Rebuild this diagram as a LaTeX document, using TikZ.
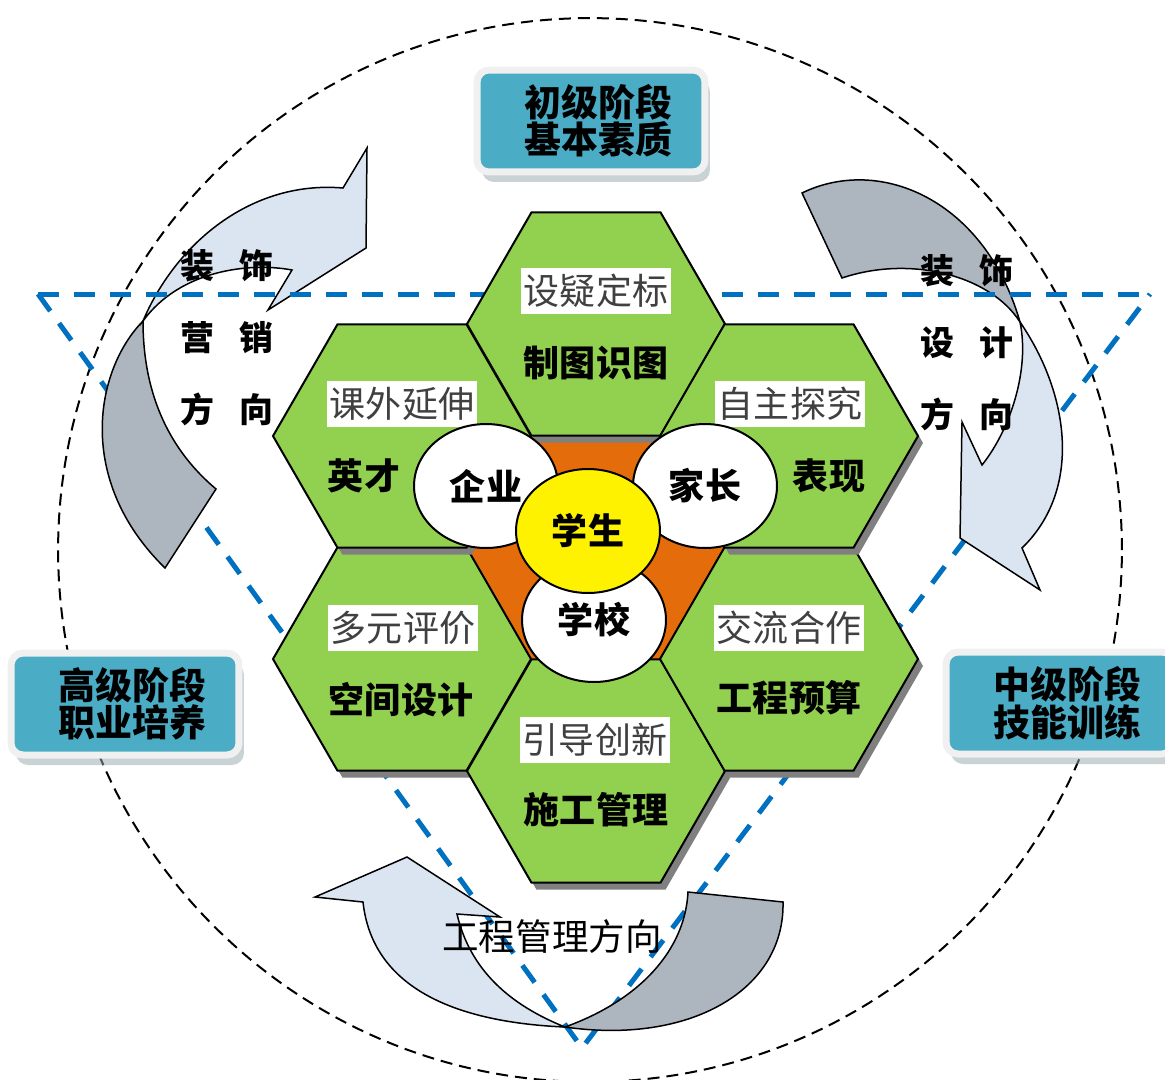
\documentclass[tikz,border=0pt]{standalone}
\usepackage{fontspec}
\newfontfamily\cjk{Noto Sans CJK SC}
\usetikzlibrary{shapes.geometric,shadows}

\definecolor{hexgreen}{HTML}{92D050}
\definecolor{coreorange}{HTML}{E46C0A}
\definecolor{stageblue}{HTML}{4BACC6}
\definecolor{stageshade}{HTML}{93A7AE}
\definecolor{arrowfront}{HTML}{DBE5F1}
\definecolor{arrowback}{HTML}{ADB5BF}
\definecolor{triblue}{HTML}{0070C0}

\tikzset{
  hexface/.style={fill=hexgreen, draw=black, line width=0.04cm},
  hexshade/.style={fill=black!50},
  frontface/.style={fill=arrowfront, draw=black, line width=0.03cm},
  backface/.style={fill=arrowback, draw=black, line width=0.03cm},
  ring/.style={draw=black, line width=0.04cm, dash pattern=on 0.24cm off 0.14cm},
  triline/.style={draw=triblue, line width=0.1cm, dash pattern=on 0.42cm off 0.3cm},
  tag/.style={fill=white, text=black!75, inner xsep=0.05cm, inner ysep=0.12cm,
    font=\cjk\fontsize{20.5}{22}\selectfont},
  word/.style={font=\cjk\bfseries\fontsize{20.5}{22}\selectfont},
  bubble/.style={ellipse, draw=black, line width=0.04cm, fill=white, inner sep=0pt,
    minimum width=2.88cm, minimum height=2.48cm, font=\cjk\bfseries\fontsize{20.5}{22}\selectfont},
  dirword/.style={align=center, font=\cjk\bfseries\fontsize{19.3}{41}\selectfont},
  pathword/.style={font=\cjk\fontsize{20.8}{22}\selectfont},
  stagebox/.style={rounded corners=0.24cm, draw=black!6, line width=0.14cm, fill=stageblue,
    minimum width=4.56cm, minimum height=2.04cm, inner sep=0pt, align=center,
    font=\cjk\bfseries\fontsize{21}{19.4}\selectfont,
    drop shadow={shadow xshift=0.1cm, shadow yshift=-0.2cm, fill=stageshade}}
}

\begin{document}
\begin{tikzpicture}[x=0.02cm, y=-0.02cm]
\useasboundingbox (0,0) rectangle (1165,1079);
\coordinate (tl) at (38,294);
\coordinate (tr) at (1150,294);
\coordinate (bv) at (582,1048);

\draw[ring] (590,550) circle (10.64cm);
\draw[triline] (tl) -- (bv) -- (tr);

% left arrow
\filldraw[backface] (165,568) -- (216,489) .. controls (172,452) and (143,398) .. (143,321)
  .. controls (95,370) and (75,480) .. (165,568) -- cycle;
\filldraw[frontface] (143,321) .. controls (175,245) and (250,180) .. (343,188) -- (367,148)
  -- (366,248) -- (268,310) -- (292,270) .. controls (250,262) and (180,270) .. (143,321) -- cycle;
% right arrow
\filldraw[backface] (802,193) .. controls (880,155) and (985,200) .. (1020,322)
  .. controls (990,275) and (910,255) .. (842,278) -- cycle;
\filldraw[frontface] (1020,322) .. controls (1070,395) and (1082,490) .. (1022,548) -- (1040,590)
  -- (960,538) -- (962,422) -- (982,465) .. controls (1010,430) and (1030,370) .. (1020,322) -- cycle;
% bottom arrow
\filldraw[backface] (565,1027) .. controls (640,1000) and (685,950) .. (688,892) -- (783,902)
  .. controls (785,990) and (690,1045) .. (565,1027) -- cycle;
\filldraw[frontface] (565,1027) .. controls (450,1022) and (372,985) .. (363,902) -- (315,897)
  -- (407,857) -- (500,917) -- (457,914) .. controls (470,970) and (510,1005) .. (565,1027) -- cycle;

\draw[triline] (tl) -- (tr);

\fill[coreorange] (596,548) +(129,0) -- +(64.5,111.7) -- +(-64.5,111.7) -- +(-129,0)
  -- +(-64.5,-111.7) -- +(64.5,-111.7) -- cycle;
\foreach \cx/\cy in {402/659, 596/771, 789/659, 596/324, 402/436, 789/436}{
  \fill[hexshade, xshift=0.1cm, yshift=-0.14cm] (\cx,\cy) +(129,0) -- +(64.5,111.7) -- +(-64.5,111.7)
    -- +(-129,0) -- +(-64.5,-111.7) -- +(64.5,-111.7) -- cycle;
  \draw[hexface] (\cx,\cy) +(129,0) -- +(64.5,111.7) -- +(-64.5,111.7)
    -- +(-129,0) -- +(-64.5,-111.7) -- +(64.5,-111.7) -- cycle;
}

\node[tag] (shezhi) at (596,291) {设疑定标};
\node[word] (zhitu) at (596,363) {制图识图};
\node[tag] (kewai) at (402,404) {课外延伸};
\node[word] (yingcai) at (364,476) {英才};
\node[tag] (zizhu) at (790,404) {自主探究};
\node[word] (biaoxian) at (829,476) {表现};
\node[tag] (duoyuan) at (403,628) {多元评价};
\node[word] (kongjian) at (401,700) {空间设计};
\node[tag] (jiaoliu) at (789,628) {交流合作};
\node[word] (yusuan) at (789,698) {工程预算};
\node[tag] (yindao) at (595,740) {引导创新};
\node[word] (shigong) at (596,810) {施工管理};

\node[bubble] (xuexiao) at (594,620) {学校};
\node[bubble] (qiye) at (486,486) {企业};
\node[bubble] (jiazhang) at (705,486) {家长};
\node[bubble, fill=yellow] (xuesheng) at (588,531) {学生};

\node[dirword] (yingxiao) at (227,338) {装\hspace{0.5cm}饰\\营\hspace{0.5cm}销\\方\hspace{0.5cm}向};
\node[dirword] (sheji) at (967,343) {装\hspace{0.5cm}饰\\设\hspace{0.5cm}计\\方\hspace{0.5cm}向};
\node[pathword] (guanli) at (552,937) {工程管理方向};

\node[stagebox] (chuji) at (591,121) {\hspace*{0.3cm}初级阶段\\\hspace*{0.3cm}基本素质};
\node[stagebox] (gaoji) at (125,704) {\hspace*{0.3cm}高级阶段\\\hspace*{0.3cm}职业培养};
\node[stagebox] (zhongji) at (1060,703) {\hspace*{0.3cm}中级阶段\\\hspace*{0.3cm}技能训练};
\end{tikzpicture}
\end{document}
